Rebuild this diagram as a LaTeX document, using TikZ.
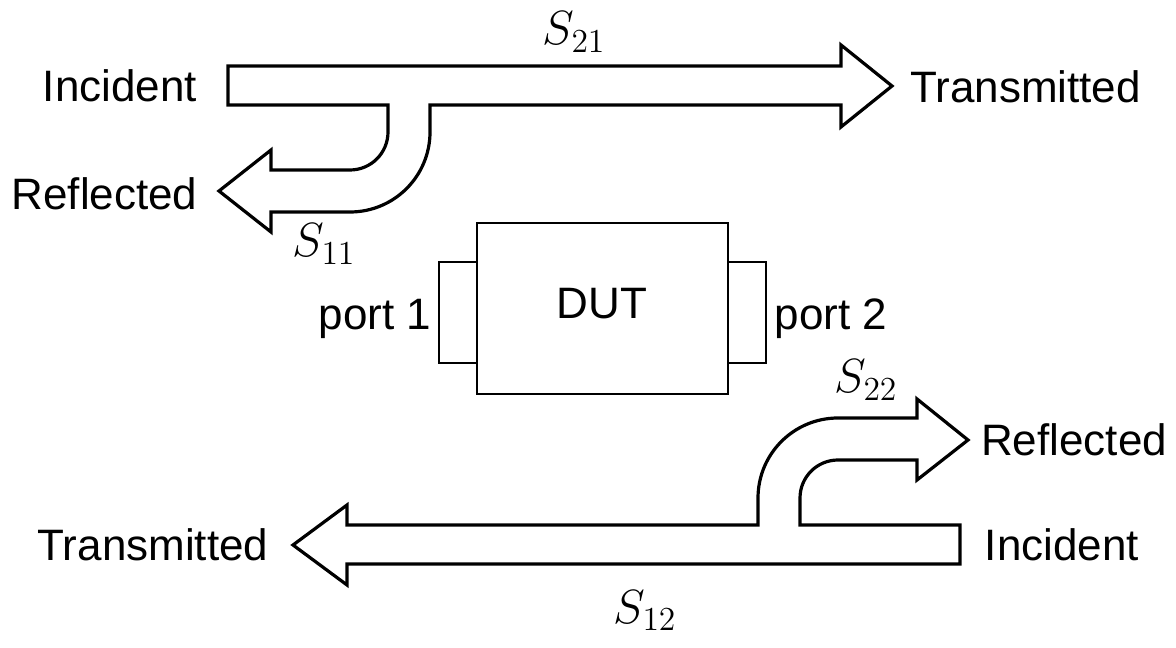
\RequirePackage{fix-cm}
\documentclass[tikz,border=0pt]{standalone}
\usepackage[no-math]{fontspec}
\setmainfont{Liberation Sans}
\usetikzlibrary{positioning}

\tikzset{
  flowarrow/.style={line width=1.6pt, fill=white, line join=miter},
  devbox/.style={draw, line width=1.4pt, minimum width=125.5pt, minimum height=85.5pt, outer sep=0pt, inner sep=0pt},
  portbox/.style={draw, line width=1.4pt, minimum width=19pt, minimum height=50.5pt, outer sep=0pt, inner sep=0pt},
  lbl/.style={anchor=base, inner sep=0pt, font=\fontsize{22}{26}\selectfont},
  slbl/.style={anchor=base, inner sep=0pt, font=\fontsize{24}{28}\selectfont},
}

\begin{document}
\begin{tikzpicture}[x=0.5pt, y=0.5pt]
\useasboundingbox (0,0) rectangle (1176,647);

% Incident wave at port 1, split into transmitted and reflected parts
\draw[flowarrow] (228,581) -- (841,581) -- (841,602) -- (892,561) -- (841,520) -- (841,542)
  -- (430,542) -- (430,515) arc[start angle=0, end angle=-90, radius=40pt]
  -- (271,435) -- (271,415) -- (219,456) -- (271,497) -- (271,477) -- (350,477)
  arc[start angle=-90, end angle=0, radius=19pt] -- (388,542) -- (228,542) -- cycle;

% Incident wave at port 2
\draw[flowarrow] (960,122) -- (800,122) -- (800,149) arc[start angle=180, end angle=90, radius=19pt]
  -- (917,187) -- (917,167) -- (968,207) -- (917,248) -- (917,229) -- (838,229)
  arc[start angle=90, end angle=180, radius=40pt] -- (758,122) -- (347,122) -- (347,142)
  -- (293,102) -- (347,62) -- (347,83) -- (960,83) -- cycle;

% Device and its two ports
\node[devbox] (dut) at (602.5,338.5) {};
\node[portbox, left=0pt of dut, yshift=-2pt] (port1) {};
\node[portbox, right=0pt of dut, yshift=-2pt] (port2) {};
\node[lbl] (dutname) at (602,328) {DUT};
\node[lbl] (p1name) at (375,317) {port 1};
\node[lbl] (p2name) at (831,317) {port 2};

% Labels, top
\node[lbl] (inc1) at (120,545) {Incident};
\node[lbl] (tra1) at (1025.5,544) {Transmitted};
\node[lbl] (ref1) at (104.5,437) {Reflected};
\node[slbl] (s21) at (574,602) {$S_{21}$};
\node[slbl] (s11) at (324,390) {$S_{11}$};

% Labels, bottom
\node[lbl] (tra2) at (153,86) {Transmitted};
\node[lbl] (inc2) at (1062,86) {Incident};
\node[lbl] (ref2) at (1074,191) {Reflected};
\node[slbl] (s22) at (866,254) {$S_{22}$};
\node[slbl] (s12) at (645,24) {$S_{12}$};
\end{tikzpicture}
\end{document}
